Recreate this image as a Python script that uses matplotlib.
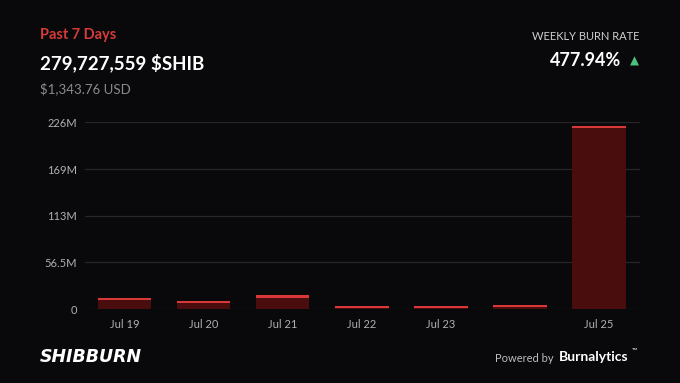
import matplotlib
matplotlib.use("Agg")
import matplotlib.pyplot as plt

days = ["Jul 19", "Jul 20", "Jul 21", "Jul 22", "Jul 23", "Jul 24", "Jul 25"]
tick_labels = ["Jul 19", "Jul 20", "Jul 21", "Jul 22", "Jul 23", "", "Jul 25"]
burned_m = [13.5, 10.2, 16.5, 3.8, 3.8, 5.2, 221.5]
y_ticks = [0, 56.5, 113, 169, 226]
y_tick_labels = ["0", "56.5M", "113M", "169M", "226M"]

BG = "#09090b"
plt.rcParams['font.family'] = ['Lato', 'DejaVu Sans']

fig = plt.figure(figsize=(6.8, 3.83), dpi=100, facecolor=BG)
ax = fig.add_axes([0.125, 0.193, 0.816, 0.488], facecolor=BG)

x = list(range(len(days)))
ax.bar(x, burned_m, width=0.68, color="#4a0d0d", zorder=2)
# bright top edge
edge = 2.6
ax.bar(x, [edge] * len(x), bottom=[v - edge for v in burned_m], width=0.68,
       color="#d83838", zorder=3)

ax.set_xlim(-0.5, 6.52)
ax.set_ylim(0, 226)
ax.set_yticks(y_ticks)
ax.set_yticklabels(y_tick_labels)
ax.set_xticks(x)
ax.set_xticklabels(tick_labels)
ax.grid(axis='y', color="#262628", linewidth=0.9, zorder=0)
ax.tick_params(axis='both', length=0, colors="#b0b0b0", labelsize=8)
ax.tick_params(axis='y', pad=6)
ax.tick_params(axis='x', pad=7)
for s in ax.spines.values():
    s.set_visible(False)

# header texts
fig.text(40 / 680, 1 - 35 / 383, "Past 7 Days", color="#d43b3b", fontsize=10.5,
         fontweight='bold', va='center', ha='left')
fig.text(40 / 680, 1 - 63 / 383, "279,727,559 $SHIB", color="white", fontsize=13.5,
         fontweight='bold', va='center', ha='left')
fig.text(40 / 680, 1 - 89 / 383, "$1,343.76 USD", color="#8c8c8c", fontsize=9.5,
         va='center', ha='left')
fig.text(640 / 680, 1 - 36 / 383, "WEEKLY BURN RATE", color="#cfcfcf", fontsize=8,
         va='center', ha='right')
fig.text(621 / 680, 1 - 61 / 383, "477.94%", color="white", fontsize=13,
         fontweight='bold', va='center', ha='right')
fig.text(634 / 680, 1 - 61 / 383, "▲", color="#4cc27f", fontsize=8.5,
         va='center', ha='center', family='DejaVu Sans')

# footer
fig.text(40 / 680, 1 - 357 / 383, "SHIBBURN", color="white", fontsize=12.5,
         fontweight='black', style='italic', va='center', ha='left', family='DejaVu Sans')
fig.text(554 / 680, 1 - 358 / 383, "Powered by", color="#bdbdbd", fontsize=8,
         va='center', ha='right')
fig.text(559 / 680, 1 - 357 / 383, "Burnalytics", color="white", fontsize=10,
         fontweight='bold', va='center', ha='left')
fig.text(632 / 680, 1 - 350 / 383, "™", color="white", fontsize=5,
         va='center', ha='left')

fig.savefig("out.png", dpi=100, facecolor=BG)
